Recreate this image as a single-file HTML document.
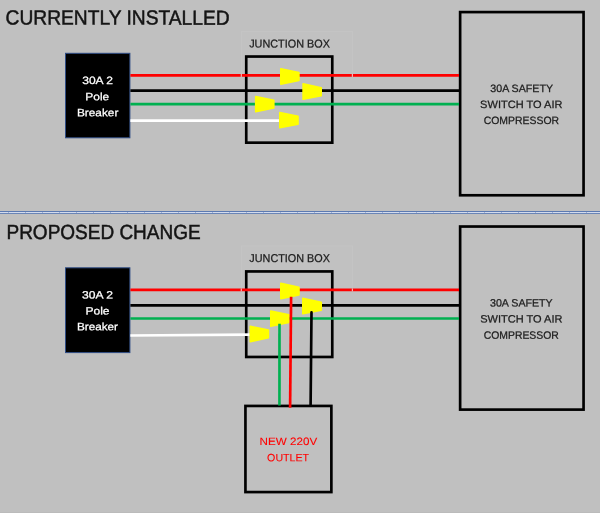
<!DOCTYPE html>
<html><head><meta charset="utf-8">
<style>
html,body{margin:0;padding:0;background:#c0c0c0;}
body{width:600px;height:514px;overflow:hidden;position:relative;font-family:"Liberation Sans",sans-serif;}
svg{position:absolute;left:0;top:0;display:block;will-change:transform}
text{font-family:"Liberation Sans",sans-serif;text-rendering:geometricPrecision;}
</style></head><body>
<svg width="600" height="514" viewBox="0 0 600 514">
<rect x="241.5" y="31.5" width="111" height="44" fill="#c1c1c1" stroke="#c4c4c4" stroke-width="1"/>
<rect x="241.5" y="246.0" width="111" height="44" fill="#c1c1c1" stroke="#c4c4c4" stroke-width="1"/>
<rect x="0" y="211" width="600" height="1" fill="#5c7ab1"/>
<rect x="0" y="212" width="600" height="1" fill="#d3dbee"/>
<rect x="0" y="213" width="600" height="1" fill="#6a85b6"/>
<rect x="8" y="212" width="1" height="1" fill="#9fb0d6"/><rect x="25" y="212" width="1" height="1" fill="#9fb0d6"/><rect x="42" y="212" width="1" height="1" fill="#9fb0d6"/><rect x="59" y="212" width="1" height="1" fill="#9fb0d6"/><rect x="76" y="212" width="1" height="1" fill="#9fb0d6"/><rect x="93" y="212" width="1" height="1" fill="#9fb0d6"/><rect x="110" y="212" width="1" height="1" fill="#9fb0d6"/><rect x="127" y="212" width="1" height="1" fill="#9fb0d6"/><rect x="144" y="212" width="1" height="1" fill="#9fb0d6"/><rect x="161" y="212" width="1" height="1" fill="#9fb0d6"/><rect x="178" y="212" width="1" height="1" fill="#9fb0d6"/><rect x="195" y="212" width="1" height="1" fill="#9fb0d6"/><rect x="212" y="212" width="1" height="1" fill="#9fb0d6"/><rect x="229" y="212" width="1" height="1" fill="#9fb0d6"/><rect x="246" y="212" width="1" height="1" fill="#9fb0d6"/><rect x="263" y="212" width="1" height="1" fill="#9fb0d6"/><rect x="280" y="212" width="1" height="1" fill="#9fb0d6"/><rect x="297" y="212" width="1" height="1" fill="#9fb0d6"/><rect x="314" y="212" width="1" height="1" fill="#9fb0d6"/><rect x="331" y="212" width="1" height="1" fill="#9fb0d6"/><rect x="348" y="212" width="1" height="1" fill="#9fb0d6"/><rect x="365" y="212" width="1" height="1" fill="#9fb0d6"/><rect x="382" y="212" width="1" height="1" fill="#9fb0d6"/><rect x="399" y="212" width="1" height="1" fill="#9fb0d6"/><rect x="416" y="212" width="1" height="1" fill="#9fb0d6"/><rect x="433" y="212" width="1" height="1" fill="#9fb0d6"/><rect x="450" y="212" width="1" height="1" fill="#9fb0d6"/><rect x="467" y="212" width="1" height="1" fill="#9fb0d6"/><rect x="484" y="212" width="1" height="1" fill="#9fb0d6"/><rect x="501" y="212" width="1" height="1" fill="#9fb0d6"/><rect x="518" y="212" width="1" height="1" fill="#9fb0d6"/><rect x="535" y="212" width="1" height="1" fill="#9fb0d6"/><rect x="552" y="212" width="1" height="1" fill="#9fb0d6"/><rect x="569" y="212" width="1" height="1" fill="#9fb0d6"/><rect x="586" y="212" width="1" height="1" fill="#9fb0d6"/><rect x="603" y="212" width="1" height="1" fill="#9fb0d6"/>
<rect x="0" y="512" width="600" height="1" fill="#bbbbbb"/>
<rect x="0" y="513" width="600" height="1" fill="#ffffff"/>
<rect x="65.5" y="53.3" width="64.4" height="84.5" fill="#000" stroke="#2f4d86" stroke-width="1"/>
<rect x="246.24" y="56.54" width="86.03" height="86.13" fill="none" stroke="#000" stroke-width="2.67" />
<rect x="460.13" y="12.09" width="123.43" height="183.18" fill="none" stroke="#000" stroke-width="2.67" />
<line x1="130.4" y1="75.4" x2="459.0" y2="75.4" stroke="#ff0000" stroke-width="2.67"/>
<line x1="130.4" y1="90.65" x2="459.5" y2="90.65" stroke="#000000" stroke-width="2.67"/>
<line x1="130.4" y1="104.05" x2="459.0" y2="104.05" stroke="#00b050" stroke-width="2.67"/>
<line x1="130.4" y1="120.7" x2="279.5" y2="120.7" stroke="#ffffff" stroke-width="2.67"/>
<rect x="240.70000000000002" y="73.9" width="1.2" height="3" fill="#f4b0b0"/>
<rect x="351.79999999999995" y="73.9" width="1.2" height="3" fill="#f4b0b0"/>
<polygon points="280.8,68.8 298.9,72.64 298.9,80.56 280.8,84.2" fill="#ffff00" stroke="#ffff00" stroke-width="1.6" stroke-linejoin="round"/>
<polygon points="303.1,83.89999999999999 321.2,87.84 321.2,95.76 303.1,99.3" fill="#ffff00" stroke="#ffff00" stroke-width="1.6" stroke-linejoin="round"/>
<polygon points="255.70000000000002,96.5 273.8,100.34 273.8,108.06 255.70000000000002,111.8" fill="#ffff00" stroke="#ffff00" stroke-width="1.6" stroke-linejoin="round"/>
<polygon points="279.8,112.5 298.0,116.34 298.0,124.26 279.8,127.8" fill="#ffff00" stroke="#ffff00" stroke-width="1.6" stroke-linejoin="round"/>
<rect x="65.5" y="267.8" width="64.4" height="84.8" fill="#000" stroke="#2f4d86" stroke-width="1"/>
<rect x="246.24" y="271.44" width="86.03" height="85.53" fill="none" stroke="#000" stroke-width="2.67" />
<rect x="460.13" y="226.53" width="123.43" height="183.08" fill="none" stroke="#000" stroke-width="2.67" />
<rect x="245.44" y="405.94" width="85.93" height="86.13" fill="none" stroke="#000" stroke-width="2.67" />
<line x1="130.4" y1="289.9" x2="459.0" y2="289.9" stroke="#ff0000" stroke-width="2.67"/>
<line x1="130.4" y1="305.3" x2="459.5" y2="305.3" stroke="#000000" stroke-width="2.67"/>
<line x1="130.4" y1="318.5" x2="459.0" y2="318.5" stroke="#00b050" stroke-width="2.67"/>
<line x1="130.4" y1="335.5" x2="249.8" y2="334.7" stroke="#ffffff" stroke-width="2.67"/>
<rect x="240.70000000000002" y="288.4" width="1.2" height="3" fill="#f4b0b0"/>
<rect x="351.79999999999995" y="288.4" width="1.2" height="3" fill="#f4b0b0"/>
<polygon points="280.8,283.3 299.0,287.24 299.0,294.86 280.8,298.7" fill="#ffff00" stroke="#ffff00" stroke-width="1.6" stroke-linejoin="round"/>
<polygon points="302.8,298.40000000000003 321.2,302.24 321.2,310.16 302.8,313.8" fill="#ffff00" stroke="#ffff00" stroke-width="1.6" stroke-linejoin="round"/>
<polygon points="270.8,311.0 288.9,314.84 288.9,322.36 270.8,326.3" fill="#ffff00" stroke="#ffff00" stroke-width="1.6" stroke-linejoin="round"/>
<polygon points="250.3,326.40000000000003 268.4,329.94 268.4,337.76 250.3,341.8" fill="#ffff00" stroke="#ffff00" stroke-width="1.6" stroke-linejoin="round"/>
<line x1="279.5" y1="323.8" x2="279.45" y2="405.6" stroke="#00b050" stroke-width="2.67"/>
<line x1="291.1" y1="296.8" x2="290.1" y2="407.8" stroke="#ff0000" stroke-width="2.67"/>
<line x1="311.5" y1="312.4" x2="310.6" y2="405.5" stroke="#000000" stroke-width="2.67" stroke-linecap="round"/>
<text id="t1" x="5.52" y="0" transform="matrix(1,0.0006,0,1,0,24.529)" font-size="20.53" fill="#141414" stroke="#141414" stroke-width="0.5" textLength="224.14" lengthAdjust="spacingAndGlyphs">CURRENTLY INSTALLED</text>
<text id="t2" x="6.48" y="0" transform="matrix(1,0.0006,0,1,0,238.988)" font-size="20.53" fill="#141414" stroke="#141414" stroke-width="0.5" textLength="194.20" lengthAdjust="spacingAndGlyphs">PROPOSED CHANGE</text>
<text id="b1" x="82.21" y="0" transform="matrix(1,0.0006,0,1,0,84.041)" font-size="10.61" fill="#ffffff" stroke="#ffffff" stroke-width="0.25" textLength="30.80" lengthAdjust="spacingAndGlyphs">30A 2</text>
<text id="b2" x="85.38" y="0" transform="matrix(1,0.0006,0,1,0,100.141)" font-size="10.61" fill="#ffffff" stroke="#ffffff" stroke-width="0.25" textLength="23.87" lengthAdjust="spacingAndGlyphs">Pole</text>
<text id="b3" x="76.95" y="0" transform="matrix(1,0.0006,0,1,0,116.141)" font-size="10.61" fill="#ffffff" stroke="#ffffff" stroke-width="0.25" textLength="41.44" lengthAdjust="spacingAndGlyphs">Breaker</text>
<text id="b4" x="82.13" y="0" transform="matrix(1,0.0006,0,1,0,298.341)" font-size="10.61" fill="#ffffff" stroke="#ffffff" stroke-width="0.25" textLength="30.97" lengthAdjust="spacingAndGlyphs">30A 2</text>
<text id="b5" x="85.41" y="0" transform="matrix(1,0.0006,0,1,0,314.341)" font-size="10.61" fill="#ffffff" stroke="#ffffff" stroke-width="0.25" textLength="24.11" lengthAdjust="spacingAndGlyphs">Pole</text>
<text id="b6" x="76.93" y="0" transform="matrix(1,0.0006,0,1,0,330.241)" font-size="10.61" fill="#ffffff" stroke="#ffffff" stroke-width="0.25" textLength="41.08" lengthAdjust="spacingAndGlyphs">Breaker</text>
<text id="j1" x="249.19" y="0" transform="matrix(1,0.0006,0,1,0,47.426)" font-size="11.31" fill="#1c1c1c" stroke="#1c1c1c" stroke-width="0.25" textLength="80.69" lengthAdjust="spacingAndGlyphs">JUNCTION BOX</text>
<text id="j2" x="249.35" y="0" transform="matrix(1,0.0006,0,1,0,261.726)" font-size="11.31" fill="#1c1c1c" stroke="#1c1c1c" stroke-width="0.25" textLength="80.56" lengthAdjust="spacingAndGlyphs">JUNCTION BOX</text>
<text id="s1" x="490.32" y="0" transform="matrix(1,0.0006,0,1,0,91.687)" font-size="10.61" fill="#1c1c1c" stroke="#1c1c1c" stroke-width="0.25" textLength="62.68" lengthAdjust="spacingAndGlyphs">30A SAFETY</text>
<text id="s2" x="480.14" y="0" transform="matrix(1,0.0006,0,1,0,107.687)" font-size="10.61" fill="#1c1c1c" stroke="#1c1c1c" stroke-width="0.25" textLength="82.31" lengthAdjust="spacingAndGlyphs">SWITCH TO AIR</text>
<text id="s3" x="483.65" y="0" transform="matrix(1,0.0006,0,1,0,123.787)" font-size="10.61" fill="#1c1c1c" stroke="#1c1c1c" stroke-width="0.25" textLength="75.40" lengthAdjust="spacingAndGlyphs">COMPRESSOR</text>
<text id="s4" x="489.97" y="0" transform="matrix(1,0.0006,0,1,0,306.287)" font-size="10.61" fill="#1c1c1c" stroke="#1c1c1c" stroke-width="0.25" textLength="62.74" lengthAdjust="spacingAndGlyphs">30A SAFETY</text>
<text id="s5" x="480.17" y="0" transform="matrix(1,0.0006,0,1,0,322.287)" font-size="10.61" fill="#1c1c1c" stroke="#1c1c1c" stroke-width="0.25" textLength="82.31" lengthAdjust="spacingAndGlyphs">SWITCH TO AIR</text>
<text id="s6" x="483.68" y="0" transform="matrix(1,0.0006,0,1,0,338.387)" font-size="10.61" fill="#1c1c1c" stroke="#1c1c1c" stroke-width="0.25" textLength="75.15" lengthAdjust="spacingAndGlyphs">COMPRESSOR</text>
<text id="o1" x="259.56" y="0" transform="matrix(1,0.0006,0,1,0,444.727)" font-size="10.61" fill="#ff0000" stroke="#ff0000" stroke-width="0.1" textLength="57.63" lengthAdjust="spacingAndGlyphs">NEW 220V</text>
<text id="o2" x="267.13" y="0" transform="matrix(1,0.0006,0,1,0,461.027)" font-size="10.61" fill="#ff0000" stroke="#ff0000" stroke-width="0.1" textLength="41.97" lengthAdjust="spacingAndGlyphs">OUTLET</text>
</svg>
</body></html>
